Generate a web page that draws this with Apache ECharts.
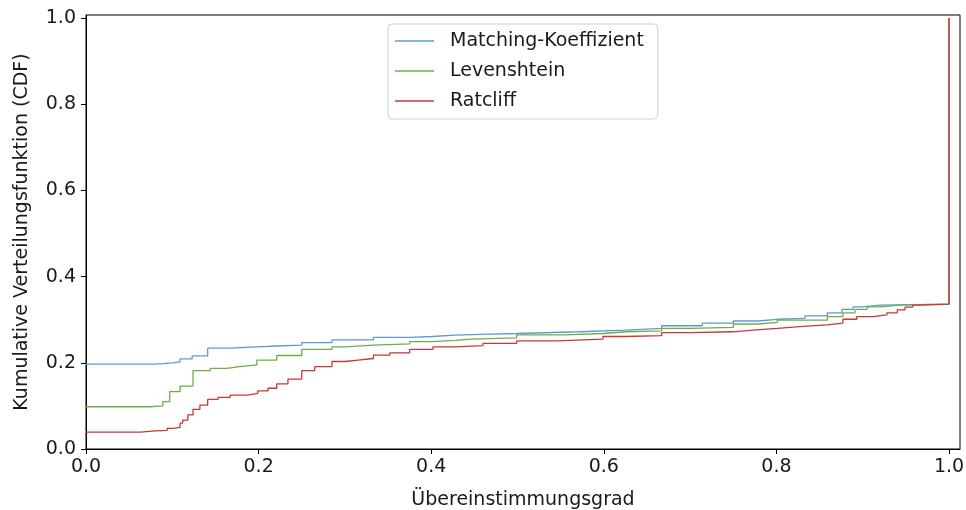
<!DOCTYPE html>
<html>
<head>
<meta charset="utf-8">
<script src="https://cdn.jsdelivr.net/npm/echarts@6/dist/echarts.min.js"></script>
<style>html,body{margin:0;padding:0;background:#fff}#c{width:966px;height:510px}</style>
</head>
<body>
<div id="c"></div>
<script>
const seriesNames = ['Matching-Koeffizient', 'Levenshtein', 'Ratcliff'];
const xTicks = [0, 0.2, 0.4, 0.6, 0.8, 1.0];
const yTicks = [0, 0.2, 0.4, 0.6, 0.8, 1.0];

const matchX = [0, 0.063, 0.08, 0.09, 0.101, 0.109, 0.123, 0.141, 0.167, 0.198, 0.221, 0.250, 0.285, 0.333, 0.375, 0.401, 0.428, 0.457, 0.499, 0.572, 0.625, 0.667, 0.714, 0.750, 0.779, 0.801, 0.833, 0.859, 0.876, 0.889, 0.899, 0.920, 1.0];
const matchY = [0.197, 0.197, 0.198, 0.200, 0.202, 0.209, 0.216, 0.234, 0.237, 0.239, 0.241, 0.247, 0.253, 0.259, 0.261, 0.264, 0.266, 0.268, 0.272, 0.276, 0.280, 0.286, 0.292, 0.297, 0.301, 0.303, 0.309, 0.316, 0.324, 0.330, 0.334, 0.336, 1.0];

const levX = [0, 0.060, 0.074, 0.089, 0.097, 0.109, 0.124, 0.144, 0.163, 0.178, 0.198, 0.221, 0.250, 0.285, 0.300, 0.333, 0.375, 0.402, 0.428, 0.447, 0.499, 0.555, 0.599, 0.625, 0.667, 0.700, 0.750, 0.779, 0.801, 0.859, 0.877, 0.891, 0.905, 0.920, 0.943, 1.0];
const levY = [0.098, 0.098, 0.100, 0.110, 0.133, 0.146, 0.182, 0.187, 0.191, 0.195, 0.206, 0.217, 0.231, 0.237, 0.241, 0.244, 0.249, 0.252, 0.255, 0.258, 0.265, 0.268, 0.272, 0.274, 0.280, 0.282, 0.290, 0.294, 0.299, 0.307, 0.316, 0.324, 0.330, 0.334, 0.336, 1.0];

const ratX = [0, 0.063, 0.080, 0.094, 0.101, 0.109, 0.112, 0.118, 0.124, 0.132, 0.141, 0.153, 0.167, 0.187, 0.199, 0.211, 0.221, 0.234, 0.250, 0.265, 0.285, 0.300, 0.315, 0.333, 0.352, 0.375, 0.402, 0.428, 0.460, 0.499, 0.546, 0.599, 0.625, 0.667, 0.700, 0.750, 0.773, 0.801, 0.827, 0.859, 0.877, 0.893, 0.912, 0.928, 0.940, 0.949, 0.958, 0.966, 1.0];
const ratY = [0.039, 0.042, 0.043, 0.048, 0.050, 0.060, 0.067, 0.079, 0.092, 0.102, 0.115, 0.120, 0.125, 0.129, 0.135, 0.141, 0.151, 0.162, 0.182, 0.191, 0.203, 0.206, 0.210, 0.218, 0.223, 0.231, 0.237, 0.240, 0.245, 0.251, 0.255, 0.261, 0.263, 0.270, 0.272, 0.276, 0.280, 0.284, 0.288, 0.292, 0.301, 0.307, 0.311, 0.316, 0.323, 0.329, 0.334, 0.336, 1.0];

const colors = ['#5b9bd5', '#70ad47', '#c9373a'];
const pairs = (xs, ys) => xs.map((x, i) => [x, ys[i]]);
const allData = [pairs(matchX, matchY), pairs(levX, levY), pairs(ratX, ratY)];

const font = 'DejaVu Sans';
const chart = echarts.init(document.getElementById('c'), null, {renderer: 'canvas'});
chart.setOption({
  animation: false,
  backgroundColor: '#fff',
  textStyle: {fontFamily: font},
  grid: {left: 86, top: 15, right: 6, bottom: 61, show: true, borderColor: '#000', borderWidth: 1, backgroundColor: 'transparent', containLabel: false, outerBoundsMode: 'none'},
  legend: {
    orient: 'vertical', left: 388, top: 24,
    data: seriesNames,
    icon: 'rect',
    itemWidth: 39, itemHeight: 1.4, itemGap: 10,
    padding: [7, 14, 8, 7],
    backgroundColor: 'rgba(255,255,255,0.8)', borderColor: '#d0d0d0', borderWidth: 1, borderRadius: 4,
    textStyle: {fontFamily: font, fontSize: 19, color: '#1a1a1a', padding: [0, 0, 0, 11], lineHeight: 20}
  },
  xAxis: {
    type: 'value', min: 0, max: 1.0127, interval: 0.2,
    name: 'Übereinstimmungsgrad', nameLocation: 'middle', nameGap: 42,
    nameTextStyle: {fontFamily: font, fontSize: 19, color: '#1a1a1a'},
    axisLine: {show: true, lineStyle: {color: '#000', width: 1}},
    axisTick: {show: true, length: 5, customValues: xTicks, lineStyle: {color: '#000'}},
    axisLabel: {customValues: xTicks, margin: 9, fontFamily: font, fontSize: 19, color: '#1a1a1a', formatter: v => v.toFixed(1)},
    splitLine: {show: false}
  },
  yAxis: {
    type: 'value', min: 0, max: 1.007, interval: 0.2,
    name: 'Kumulative Verteilungsfunktion (CDF)', nameLocation: 'middle', nameGap: 54,
    nameTextStyle: {fontFamily: font, fontSize: 19, color: '#1a1a1a'},
    axisLine: {show: true, lineStyle: {color: '#000', width: 1}},
    axisTick: {show: true, length: 5, customValues: yTicks, lineStyle: {color: '#000'}},
    axisLabel: {customValues: yTicks, margin: 10, fontFamily: font, fontSize: 19, color: '#1a1a1a', formatter: v => v.toFixed(1)},
    splitLine: {show: false}
  },
  series: seriesNames.map((n, i) => ({
    name: n, type: 'line', step: 'end', symbol: 'none',
    data: allData[i], color: colors[i],
    lineStyle: {width: 1.3, color: colors[i]}
  }))
});
</script>
</body>
</html>
